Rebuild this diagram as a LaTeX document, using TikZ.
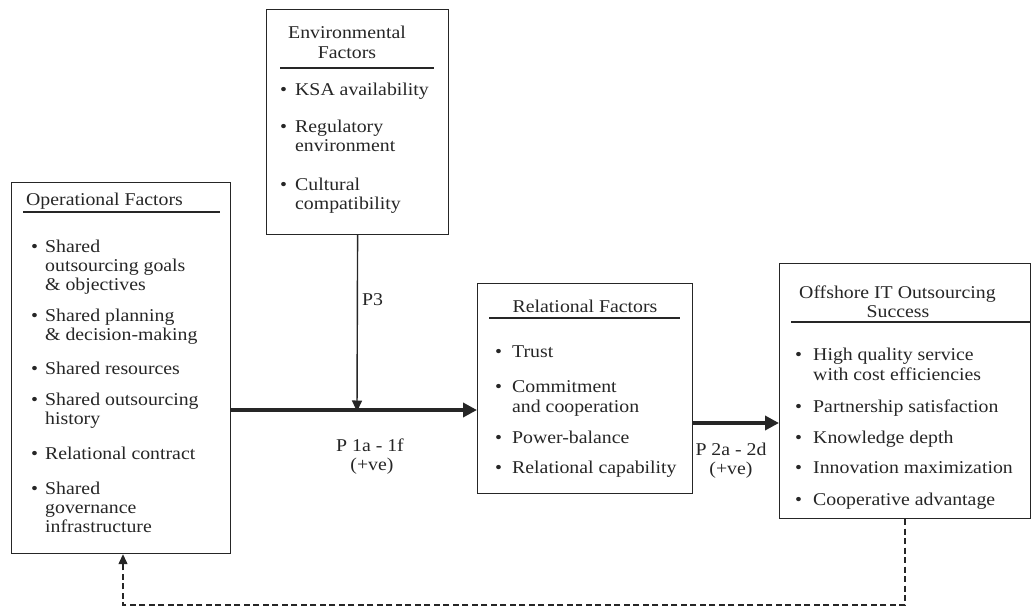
\documentclass[tikz,border=0pt]{standalone}
\usepackage{fontspec}
\setmainfont[FakeStretch=1.1]{Liberation Serif}
\usetikzlibrary{arrows.meta}
\definecolor{ink}{gray}{0.15}
\begin{document}
\begin{tikzpicture}[x=1pt,y=-1pt,
  box/.style={draw=ink, line width=1.2pt, inner sep=0pt, anchor=north west},
  txt/.style={anchor=base west, inner sep=0pt, text=ink, font=\fontsize{18}{19}\selectfont},
  ctxt/.style={anchor=base, inner sep=0pt, text=ink, font=\fontsize{18}{19}\selectfont},
  bul/.style={anchor=base west, inner sep=0pt, text=ink, font=\fontsize{18}{19}\selectfont},
  rulel/.style={draw=ink, line width=1.1pt},
  bigarrow/.style={draw=ink, line width=3.5pt, -{Triangle[length=14pt,width=14pt]}},
  thinarrow/.style={draw=ink, line width=1.4pt, -{Triangle[length=11pt,width=10pt]}},
  feedback/.style={draw=ink, line width=1.3pt, dash pattern=on 6pt off 3.5pt, -{Triangle[length=10pt,width=9pt]}},
]
\useasboundingbox[fill=white] (0,0) rectangle (1033,613);

% boxes
\node[box, minimum width=219pt, minimum height=371pt] (op) at (11,182) {};
\node[box, minimum width=182pt, minimum height=225pt] (env) at (266,9) {};
\node[box, minimum width=215pt, minimum height=210pt] (rel) at (477,283) {};
\node[box, minimum width=251pt, minimum height=255pt] (off) at (779,263) {};

% Operational factors
\node[txt] (opt) at (26,205) {Operational Factors};
\draw[rulel] (23,212) -- (220,212);
\foreach \y/\n in {252/1,321/2,374/3,405/4,459/5,494/6}
  \node[bul] (opb\n) at (31,\y) {•};
\node[txt] (op1a) at (45,252) {Shared};
\node[txt] (op1b) at (45,271) {outsourcing goals};
\node[txt] (op1c) at (45,290) {\& objectives};
\node[txt] (op2a) at (45,321) {Shared planning};
\node[txt] (op2b) at (45,340) {\& decision-making};
\node[txt] (op3) at (45,374) {Shared resources};
\node[txt] (op4a) at (45,405) {Shared outsourcing};
\node[txt] (op4b) at (45,424) {history};
\node[txt] (op5) at (45,459) {Relational contract};
\node[txt] (op6a) at (45,494) {Shared};
\node[txt] (op6b) at (45,513) {governance};
\node[txt] (op6c) at (45,532) {infrastructure};

% Environmental factors
\node[ctxt] (envt1) at (347,38) {Environmental};
\node[ctxt] (envt2) at (347,58) {Factors};
\draw[rulel] (280,68) -- (434,68);
\foreach \y/\n in {95/1,132/2,190/3}
  \node[bul] (envb\n) at (280,\y) {•};
\node[txt] (env1) at (295,95) {KSA availability};
\node[txt] (env2a) at (295,132) {Regulatory};
\node[txt] (env2b) at (295,151) {environment};
\node[txt] (env3a) at (295,190) {Cultural};
\node[txt] (env3b) at (295,209) {compatibility};

% Relational factors
\node[ctxt] (relt) at (585,312) {Relational Factors};
\draw[rulel] (489,318) -- (680,318);
\foreach \y/\n in {357/1,392/2,443/3,473/4}
  \node[bul] (relb\n) at (495,\y) {•};
\node[txt] (rel1) at (512,357) {Trust};
\node[txt] (rel2a) at (512,392) {Commitment};
\node[txt] (rel2b) at (512,412) {and cooperation};
\node[txt] (rel3) at (512,443) {Power-balance};
\node[txt] (rel4) at (512,473) {Relational capability};

% Offshore IT outsourcing success
\node[txt] (offt1) at (799,298) {Offshore IT Outsourcing};
\node[ctxt] (offt2) at (898,317) {Success};
\draw[rulel] (791,322) -- (off.east |- 0,322);
\foreach \y/\n in {360/1,412/2,443/3,473/4,505/5}
  \node[bul] (offb\n) at (795,\y) {•};
\node[txt] (off1a) at (813,360) {High quality service};
\node[txt] (off1b) at (813,380) {with cost efficiencies};
\node[txt] (off2) at (813,412) {Partnership satisfaction};
\node[txt] (off3) at (813,443) {Knowledge depth};
\node[txt] (off4) at (813,473) {Innovation maximization};
\node[txt] (off5) at (813,505) {Cooperative advantage};

% connectors
\coordinate (mj) at (357,410);
\coordinate (r2) at (735,423);
\draw[bigarrow] (op.east |- mj) -- (rel.west |- mj);
\draw[thinarrow] (env.south) -- ([yshift=-1.5pt]mj);
\draw[bigarrow] (rel.east |- r2) -- (off.west |- r2);

\coordinate (d1) at (905,605);
\coordinate (d2) at (123,605);
\draw[feedback] (off.south -| d1) -- (d1) -- (d2) -- (op.south -| d2);

% labels
\node[txt] (p3) at (362,305) {P3};
\node[ctxt] (p1) at (370,451) {P 1a - 1f};
\node[ctxt] (p1v) at (372,470) {(+ve)};
\node[ctxt] (p2) at (731,455) {P 2a - 2d};
\node[ctxt] (p2v) at (731,474) {(+ve)};
\end{tikzpicture}
\end{document}
